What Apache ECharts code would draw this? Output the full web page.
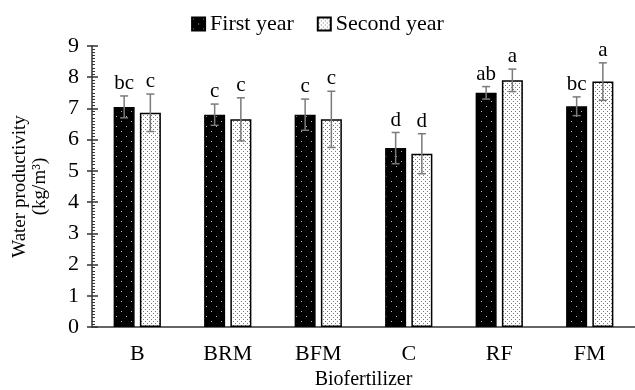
<!DOCTYPE html>
<html>
<head>
<meta charset="utf-8">
<script src="https://cdn.jsdelivr.net/npm/echarts@6/dist/echarts.min.js"></script>
<style>
html, body { margin: 0; padding: 0; background: #fff; }
#chart { width: 635px; height: 390px; }
</style>
</head>
<body>
<div id="chart"></div>
<script>
// data
var categories = ['B', 'BRM', 'BFM', 'C', 'RF', 'FM'];
var firstYear = [7.05, 6.80, 6.80, 5.73, 7.50, 7.07];
var secondYear = [6.86, 6.65, 6.65, 5.55, 7.90, 7.86];
var firstErr = [0.35, 0.34, 0.50, 0.50, 0.20, 0.30];
var secondErr = [0.60, 0.69, 0.90, 0.64, 0.36, 0.60];
var firstLetters = ['bc', 'c', 'c', 'd', 'ab', 'bc'];
var secondLetters = ['c', 'c', 'c', 'd', 'a', 'a'];
var yTicks = [0, 1, 2, 3, 4, 5, 6, 7, 8, 9];

var FONT = '"Liberation Serif", "DejaVu Serif", serif';

// fill patterns: black with white dots, white with grey dots
function makePattern(bg, dot, step, r) {
	var c = document.createElement('canvas');
	c.width = step; c.height = step;
	var g = c.getContext('2d');
	g.fillStyle = bg;
	g.fillRect(0, 0, step, step);
	g.fillStyle = dot;
	g.fillRect(1, 1, r, r);
	if (step > 3) g.fillRect(1 + step / 2, 1 + step / 2, r, r);
	return c;
}
var darkFill = { image: makePattern('#000', '#bbb', 10, 1), repeat: 'repeat' };
var lightFill = { image: makePattern('#fff', '#777', 4, 1), repeat: 'repeat' };

var barW = 21;
var shift = 13.1; // half distance between the two bars of a group

function errorSeries(values, errs, letters, dx) {
	return {
		type: 'custom',
		silent: true,
		z: 5,
		data: values.map(function (v, i) { return [i, v, errs[i]]; }),
		renderItem: function (params, api) {
			var i = api.value(0), v = api.value(1), e = api.value(2);
			var top = api.coord([i, v + e]);
			var bot = api.coord([i, v - e]);
			var x = top[0] + dx;
			var style = { stroke: '#7a7a7a', lineWidth: 1.5 };
			return {
				type: 'group',
				children: [
					{ type: 'line', shape: { x1: x, y1: top[1], x2: x, y2: bot[1] }, style: style },
					{ type: 'line', shape: { x1: x - 4, y1: top[1], x2: x + 4, y2: top[1] }, style: style },
					{ type: 'line', shape: { x1: x - 4, y1: bot[1], x2: x + 4, y2: bot[1] }, style: style },
					{ type: 'text', x: x, y: top[1] - 2, style: {
						text: letters[i], fill: '#000', font: '21px ' + FONT,
						align: 'center', verticalAlign: 'bottom' } }
				]
			};
		}
	};
}

var myChart = echarts.init(document.getElementById('chart'));

var option = {
	animation: false,
	backgroundColor: '#fff',
	textStyle: { fontFamily: FONT },
	legend: {
		top: 8,
		left: 'center',
		icon: 'rect',
		itemWidth: 13,
		itemHeight: 13,
		itemGap: 23,
		textStyle: { fontSize: 22, fontFamily: FONT, color: '#000' },
		data: ['First year', 'Second year']
	},
	grid: { left: 92, right: 0, top: 46, bottom: 63, outerBoundsMode: 'none' },
	xAxis: {
		type: 'category',
		data: categories,
		name: 'Biofertilizer',
		nameLocation: 'middle',
		nameGap: 42,
		nameTextStyle: { fontSize: 20, fontFamily: FONT, color: '#000' },
		axisLine: { lineStyle: { color: '#333', width: 1.5 } },
		axisTick: { show: false },
		axisLabel: { fontSize: 22, fontFamily: FONT, color: '#000', margin: 16 }
	},
	yAxis: [
		{
			type: 'value',
			min: 0, max: 9, interval: 1,
			name: 'Water productivity\n(kg/m³)',
			nameLocation: 'middle',
			nameGap: 42,
			nameTextStyle: { fontSize: 19, fontFamily: FONT, color: '#000', lineHeight: 20 },
			axisLine: { show: true, lineStyle: { color: '#333', width: 1.5 } },
			axisTick: { show: true, inside: false, length: 5, lineStyle: { color: '#333', width: 1.5 } },
			axisLabel: {
				fontSize: 22, fontFamily: FONT, color: '#000', margin: 13,
				formatter: function (v) { return yTicks.indexOf(v) >= 0 ? String(v) : ''; }
			},
			splitLine: { show: false }
		},
		{
			type: 'value',
			position: 'left',
			min: 0, max: 9, interval: 1,
			axisLine: { show: false },
			axisTick: { show: true, inside: true, length: 6, lineStyle: { color: '#333', width: 1.5 } },
			minorTick: { show: true, splitNumber: 10, length: 3, lineStyle: { color: '#333', width: 1 } },
			axisLabel: { show: false },
			splitLine: { show: false }
		}
	],
	series: [
		{
			name: 'First year',
			type: 'bar',
			barWidth: barW,
			barGap: '25%',
			data: firstYear,
			itemStyle: { color: darkFill, borderColor: '#000', borderWidth: 1.5 }
		},
		{
			name: 'Second year',
			type: 'bar',
			barWidth: barW,
			data: secondYear,
			itemStyle: { color: lightFill, borderColor: '#000', borderWidth: 1.5 }
		},
		errorSeries(firstYear, firstErr, firstLetters, -shift),
		errorSeries(secondYear, secondErr, secondLetters, shift)
	]
};

myChart.setOption(option);
</script>
</body>
</html>
